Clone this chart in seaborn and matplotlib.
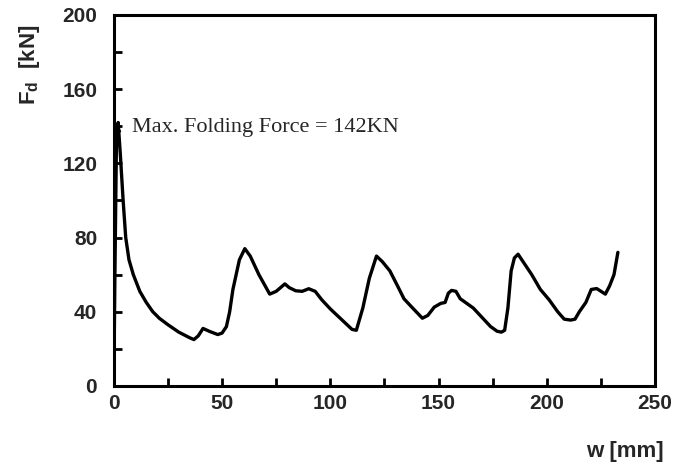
import numpy as np
import pandas as pd
import matplotlib
matplotlib.use("Agg")
import matplotlib.pyplot as plt
import seaborn as sns

# displacement w [mm] and folding force F_d [kN]
w_mm = [0, 0.5, 1.2, 2.0, 3.0, 4.3, 5.5, 7, 9, 12, 15, 18, 21, 25, 30, 35, 37,
        39, 41.2, 44, 48, 50, 52, 53.5, 55, 58, 60.5, 63, 67, 72, 75, 79, 81,
        84, 87, 90, 93, 96, 100, 105, 110, 112, 115, 118, 121.3, 124, 127.5,
        131, 134, 138, 142.5, 145, 148, 151, 153, 154.5, 156, 158, 160, 163,
        166, 170, 174, 177, 179, 180.5, 182, 183.5, 185, 186.7, 189, 193, 197,
        201, 205, 208, 211, 213, 215, 218, 220.5, 223, 225, 227, 229, 231, 232.8]
force_kN = [0, 60, 130, 142, 125, 100, 80, 68, 60, 51, 45, 40, 36.5, 33, 29, 26, 25,
            27, 31, 29.5, 27.7, 28.5, 32, 40, 52, 68, 74, 70, 60, 49.5, 51, 55, 53,
            51.3, 51, 52.4, 51, 46.5, 41.5, 36, 30.5, 30, 42, 58, 70, 67, 62,
            54, 47, 42, 36.5, 38, 42.5, 44.5, 45, 50, 51.5, 51, 47, 44.5,
            42, 37, 32, 29.5, 29, 30, 42, 62, 69, 71, 67, 60, 52,
            46.5, 40, 36, 35.5, 36, 40, 45, 52, 52.5, 51, 49.5, 54, 60, 72]

peak_w = 2.0
peak_force = 142

df = pd.DataFrame({"w": w_mm, "F": force_kN})

sns.set_theme(style="ticks")
plt.rcParams["font.family"] = ["Liberation Sans", "DejaVu Sans"]

fig = plt.figure(figsize=(6.94, 4.65), dpi=100)
ax = fig.add_axes([0.164, 0.170, 0.780, 0.798])

sns.lineplot(data=df, x="w", y="F", sort=False, estimator=None,
             color="black", linewidth=2.4, ax=ax)

ax.set_xlim(0, 250)
ax.set_ylim(0, 200)
ax.set_xticks(np.arange(0, 251, 50))
ax.set_xticks(np.arange(25, 250, 50), minor=True)
ax.set_yticks(np.arange(0, 201, 40))
ax.set_yticks(np.arange(20, 200, 40), minor=True)
ax.tick_params(which="both", direction="in", length=6, width=2, color="black",
               top=False, right=False)
ax.tick_params(axis="y", which="major", pad=12)
ax.tick_params(axis="x", which="major", pad=6)
for lab in ax.get_xticklabels() + ax.get_yticklabels():
    lab.set_fontsize(15)
    lab.set_fontweight("bold")
for side in ["left", "bottom", "top", "right"]:
    ax.spines[side].set_visible(True)
    ax.spines[side].set_linewidth(2.2)
    ax.spines[side].set_color("black")

ax.set_xlabel("")
ax.set_ylabel("")
fig.text(0.043, 0.86, r"F$_\mathregular{d}$  [kN]", rotation=90, ha="center",
         va="center", fontsize=16, fontweight="bold")
fig.text(0.90, 0.028, "w [mm]", ha="center", va="center", fontsize=16,
         fontweight="bold")

ax.annotate("", xy=(peak_w, peak_force), xytext=(peak_w, peak_force - 6),
            arrowprops=dict(arrowstyle="-|>", color="black", lw=1.2,
                            mutation_scale=8))
ax.text(8.6, 139.5, "Max. Folding Force = 142KN", family="Liberation Serif",
        fontsize=16, va="center", ha="left")

fig.savefig("out.png", dpi=100)
